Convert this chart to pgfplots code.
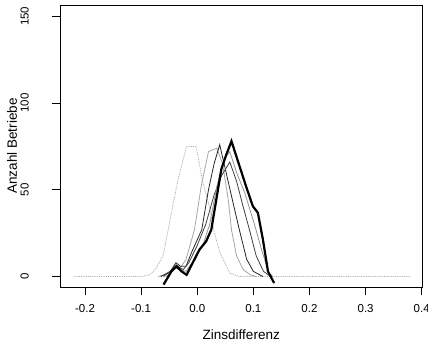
\documentclass[border=0pt]{standalone}
\usepackage{pgfplots}
\pgfplotsset{compat=1.18}
\usepackage{fontspec}
\setmainfont{Liberation Sans}
\begin{document}
\begin{tikzpicture}
\begin{axis}[
  at={(60.5pt,56pt)}, anchor=south west,
  scale only axis, width=361.5pt, height=282pt,
  xmin=-0.2437, xmax=0.4005, ymin=-6, ymax=156.5,
  every axis/.append style={line width=0.9pt},
  every tick/.style={black, line width=0.8pt},
  tick align=outside, major tick length=8pt,
  xtick={-0.2,-0.1,0,0.1,0.2,0.3,0.4},
  ytick={0,50,100,150},
  xtick pos=bottom, ytick pos=left,
  /pgf/number format/assume math mode=true,
  xticklabel style={font=\fontsize{11.5}{13}\selectfont,
    /pgf/number format/.cd, fixed, fixed zerofill, precision=1},
  xticklabel shift=6pt,
  yticklabel style={font=\fontsize{11.5}{13}\selectfont, rotate=90, anchor=south},
  yticklabel shift=20pt,
  xlabel={Zinsdifferenz}, ylabel={Anzahl Betriebe},
  every axis x label/.style={at={(axis description cs:0.5,-0.17)}, anchor=center, font=\fontsize{13.5}{15}\selectfont},
  every axis y label/.style={at={(axis description cs:-0.134,0.5)}, anchor=center, rotate=90, font=\fontsize{13.5}{15}\selectfont},
  clip=false,
]
% dotted (leftmost) curve
\addplot[gray!70, densely dotted, line width=0.8pt] coordinates {
(-0.22,0) (-0.10,0) (-0.085,1) (-0.075,4) (-0.061,12) (-0.05,30) (-0.035,55) (-0.019,75) (-0.002,75) (0.010,54) (0.022,40) (0.030,26) (0.040,14) (0.058,2) (0.075,0) (0.38,0)};
% thin curves
\addplot[gray!70, line width=0.8pt] coordinates {
(-0.07,0) (-0.05,2) (-0.038,7) (-0.03,5) (-0.02,10) (-0.005,27) (0.007,52) (0.020,72) (0.035,74) (0.045,65) (0.055,45) (0.061,27) (0.070,12) (0.082,4) (0.095,1) (0.105,0)};
\addplot[black!85, line width=0.8pt] coordinates {
(-0.065,0) (-0.048,3) (-0.038,8) (-0.03,6) (-0.02,6) (-0.01,14) (0.008,27) (0.020,50) (0.030,65) (0.040,76) (0.050,62) (0.062,45) (0.075,27) (0.088,10) (0.100,3) (0.117,0)};
\addplot[black!75, line width=0.8pt] coordinates {
(-0.06,0) (-0.045,4) (-0.035,6) (-0.025,4) (-0.015,8) (0.000,18) (0.015,30) (0.030,47) (0.043,58) (0.058,66) (0.070,55) (0.082,40) (0.093,27) (0.105,12) (0.118,3) (0.131,0)};
\addplot[gray!85, line width=0.8pt] coordinates {
(-0.055,0) (-0.04,5) (-0.03,4) (-0.02,3) (-0.005,10) (0.010,18) (0.022,30) (0.035,52) (0.048,68) (0.058,72) (0.070,60) (0.085,48) (0.102,30) (0.115,15) (0.128,2) (0.135,0)};
% thick curve
\addplot[black, line width=2.2pt] coordinates {
(-0.060,-4.6) (-0.046,3) (-0.037,6) (-0.028,3) (-0.019,1) (-0.008,8) (0.004,15.6) (0.016,20.4) (0.025,27) (0.034,44.5) (0.043,62) (0.052,70.5) (0.061,78) (0.075,64) (0.087,52) (0.099,40.6) (0.108,36.8) (0.117,21.4) (0.126,3) (0.137,-3.7)};
\end{axis}
\pgfresetboundingbox
\path (0,0) rectangle (428pt,343pt);
\end{tikzpicture}
\end{document}
